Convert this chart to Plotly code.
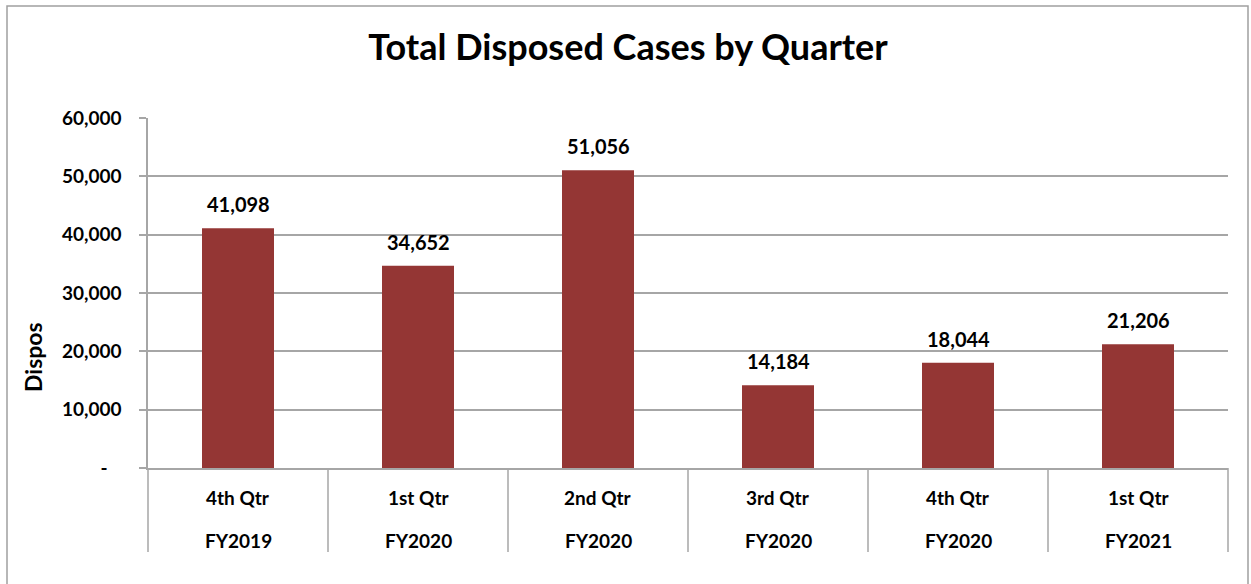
import plotly.graph_objects as go

quarters = ["4th Qtr", "1st Qtr", "2nd Qtr", "3rd Qtr", "4th Qtr", "1st Qtr"]
fiscal_years = ["FY2019", "FY2020", "FY2020", "FY2020", "FY2020", "FY2021"]
dispos = [41098, 34652, 51056, 14184, 18044, 21206]
y_ticks = [0, 10000, 20000, 30000, 40000, 50000, 60000]
y_tick_labels = ["-\u00a0\u00a0\u00a0", "10,000", "20,000", "30,000", "40,000", "50,000", "60,000"]

W, H = 1251, 584
ML, MT = 148, 118
MR = W - 1228
MB = H - 468
PW = W - ML - MR
PH = H - MT - MB

FONT = "Lato"
BAR = "#943634"
GRID = "#A6A6A6"

n = len(dispos)
xs = list(range(n))

fig = go.Figure()
fig.add_trace(go.Bar(
    x=xs, y=dispos, width=0.4,
    marker=dict(color=BAR, line=dict(width=0)),
    hoverinfo="skip",
))

annotations = []
for i, v in enumerate(dispos):
    annotations.append(dict(x=i, y=v, xref="x", yref="y", text=f"{v:,}",
                            showarrow=False, yshift=24, yanchor="middle",
                            font=dict(family=FONT, size=20, color="#000000", weight="bold")))
    annotations.append(dict(x=i, y=0, xref="x", yref="paper", text=quarters[i],
                            showarrow=False, yshift=-29, yanchor="middle",
                            font=dict(family=FONT, size=19, color="#000000", weight="bold")))
    annotations.append(dict(x=i, y=0, xref="x", yref="paper", text=fiscal_years[i],
                            showarrow=False, yshift=-72, yanchor="middle",
                            font=dict(family=FONT, size=19, color="#000000", weight="bold")))

annotations.append(dict(x=(33 - ML) / PW, y=(468 - 357) / PH, xref="paper", yref="paper",
                        text="Dispos", textangle=-90, showarrow=False,
                        xanchor="center", yanchor="middle",
                        font=dict(family=FONT, size=23, color="#000000", weight="bold")))

shapes = []
for i in range(n + 1):
    shapes.append(dict(type="line", xref="paper", yref="paper",
                       x0=i / n, x1=i / n, y0=0, y1=-(552 - 468) / PH,
                       line=dict(color=GRID, width=1.5)))
shapes.append(dict(type="rect", xref="paper", yref="paper",
                   x0=(7 - ML) / PW, x1=(1248 - ML) / PW,
                   y0=(468 - 620) / PH, y1=(468 - 6) / PH,
                   line=dict(color="#A0A0A0", width=1.5), fillcolor="rgba(0,0,0,0)", layer="below"))

fig.update_layout(
    width=W, height=H,
    margin=dict(l=ML, r=MR, t=MT, b=MB, autoexpand=False),
    paper_bgcolor="#FFFFFF", plot_bgcolor="#FFFFFF",
    showlegend=False,
    hovermode=False,
    title=dict(text="<b>Total Disposed Cases by Quarter</b>", x=628 / W, xanchor="center",
               y=1 - 47 / H, yanchor="middle", yref="container",
               font=dict(family=FONT, size=36, color="#000000")),
    xaxis=dict(range=[-0.5, n - 0.5], showticklabels=False, showgrid=False, zeroline=False,
               showline=True, linecolor=GRID, linewidth=1.5, ticks=""),
    yaxis=dict(range=[0, 60000], tickvals=y_ticks, ticktext=y_tick_labels,
               showgrid=True, gridcolor=GRID, gridwidth=1.5, zeroline=False,
               showline=True, linecolor=GRID, linewidth=1.5,
               ticks="outside", ticklen=7, tickcolor=GRID, tickwidth=1.5,
               ticklabelstandoff=14,
               tickfont=dict(family=FONT, size=19, color="#000000", weight="bold")),
    annotations=annotations,
    shapes=shapes,
)

fig.write_html("out.html", config={"displayModeBar": False},
               post_script="document.body.style.margin='0';document.body.style.overflow='hidden';")
